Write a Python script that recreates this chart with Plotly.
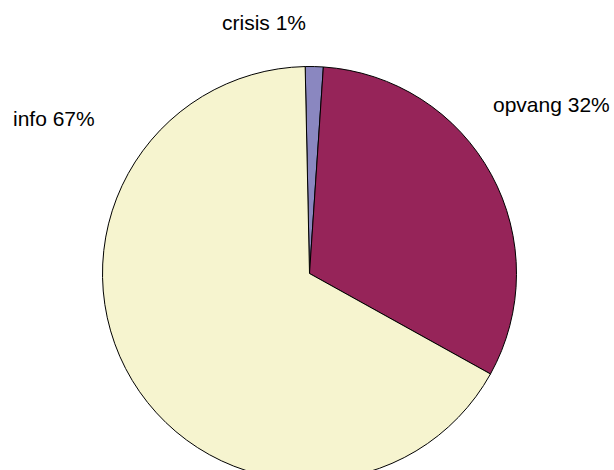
import plotly.graph_objects as go

labels = ["crisis", "opvang", "info"]
values = [1.4, 32.0, 66.6]
colors = ["#8a87c0", "#962459", "#f6f4cf"]

W, H = 614, 540
cx, cy, r = 309.5, 273.5, 207

fig = go.Figure(go.Pie(
    labels=labels, values=values, sort=False, direction="clockwise",
    rotation=-1.2, textinfo="none", hoverinfo="label+percent",
    marker=dict(colors=colors, line=dict(color="black", width=1)),
    domain=dict(x=[(cx - r) / W, (cx + r) / W], y=[1 - (cy + r) / H, 1 - (cy - r) / H]),
    showlegend=False,
))

total = sum(values)
pct = [round(v / total * 100) for v in values]
label_pos = {"crisis": (264, 22, "center"), "opvang": (491, 105, "left"), "info": (11, 118, "left")}
for lab, p in zip(labels, pct):
    px, py, anc = label_pos[lab]
    fig.add_annotation(x=px / W, y=1 - py / H, xref="paper", yref="paper",
                       text=f"{lab} {p}%", showarrow=False, xanchor=anc, yanchor="middle",
                       font=dict(family="Liberation Sans", size=21, color="black"))

fig.update_layout(width=W, height=H, margin=dict(l=0, r=0, t=0, b=0),
                  paper_bgcolor="white", plot_bgcolor="white")

fig.write_html("out.html", config={"displayModeBar": False},
               post_script="document.body.style.margin='0';document.body.style.overflow='hidden';document.documentElement.style.overflow='hidden';")
